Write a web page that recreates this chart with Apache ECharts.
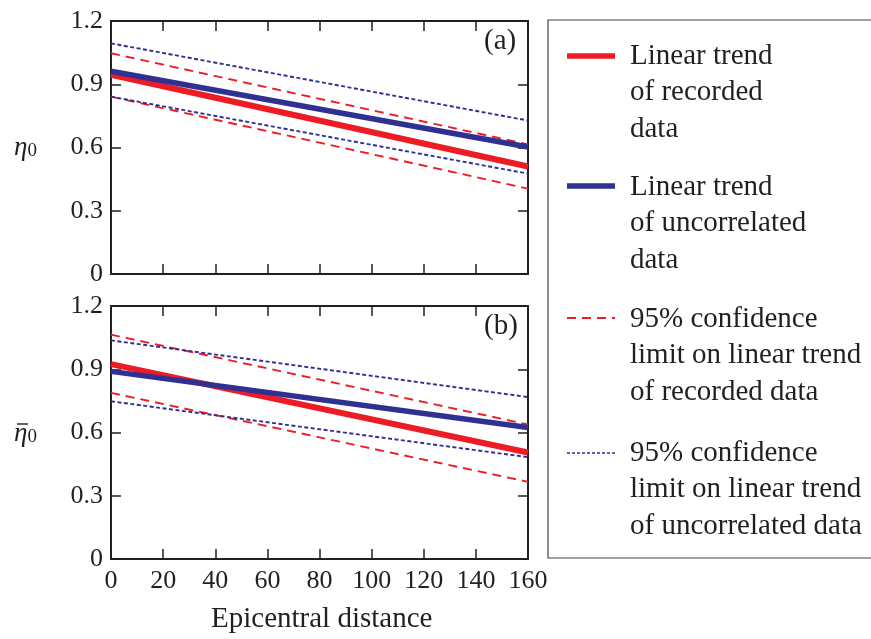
<!DOCTYPE html>
<html>
<head>
<meta charset="utf-8">
<script src="https://cdn.jsdelivr.net/npm/echarts@6/dist/echarts.min.js"></script>
<style>
  html, body { margin: 0; padding: 0; background: #fff; }
  #chart { width: 871px; height: 639px; }
</style>
</head>
<body>
<div id="chart"></div>
<script>
// Epicentral distance end points of each linear trend
var distance = [0, 160];

// Panel (a): eta_0
var aRecordedTrend = [0.945, 0.51];
var aUncorrTrend = [0.962, 0.602];
var aRecordedUpper = [1.047, 0.615];
var aRecordedLower = [0.841, 0.405];
var aUncorrUpper = [1.094, 0.728];
var aUncorrLower = [0.841, 0.476];

// Panel (b): eta_0 bar
var bRecordedTrend = [0.924, 0.505];
var bUncorrTrend = [0.89, 0.624];
var bRecordedUpper = [1.064, 0.638];
var bRecordedLower = [0.788, 0.366];
var bUncorrUpper = [1.037, 0.768];
var bUncorrLower = [0.748, 0.483];

var legendLabels = [
  'Linear trend\nof recorded\ndata',
  'Linear trend\nof uncorrelated\ndata',
  '95% confidence\nlimit on linear trend\nof recorded data',
  '95% confidence\nlimit on linear trend\nof uncorrelated data'
];

var RED = '#ed1c24';
var BLUE = '#2e3192';
var INK = '#231f20';
var FONT = '"Liberation Serif", "Times New Roman", serif';

function pts(ys) {
  return distance.map(function (x, i) { return [x, ys[i]]; });
}

function line(name, ys, grid, color, width, type, z) {
  return {
    name: name,
    type: 'line',
    xAxisIndex: grid * 2,
    yAxisIndex: grid * 2,
    data: pts(ys),
    symbol: 'none',
    silent: true,
    z: z,
    lineStyle: { color: color, width: width, type: type, cap: 'butt' }
  };
}

var DASH = [9, 6];
var DOT = [4, 2.5];
var THIN = 1.9;

function xAxes(grid, showLabels) {
  var common = {
    type: 'value', gridIndex: grid, min: 0, max: 160, interval: 20,
    splitLine: { show: false },
    axisLine: { show: true, onZero: false, lineStyle: { color: INK, width: 2 } },
    axisTick: { show: true, inside: true, length: 10, lineStyle: { color: INK, width: 1.5 } }
  };
  return [
    Object.assign({}, common, {
      position: 'bottom',
      axisLabel: { show: showLabels, color: INK, fontFamily: FONT, fontSize: 26, margin: 9,
        showMinLabel: true, showMaxLabel: true }
    }),
    Object.assign({}, common, { position: 'top', axisLabel: { show: false } })
  ];
}

function yAxes(grid) {
  var common = {
    type: 'value', gridIndex: grid, min: 0, max: 1.2, interval: 0.3,
    splitLine: { show: false },
    axisLine: { show: true, onZero: false, lineStyle: { color: INK, width: 2 } },
    axisTick: { show: true, inside: true, length: 10, lineStyle: { color: INK, width: 1.5 } }
  };
  return [
    Object.assign({}, common, {
      position: 'left',
      axisLabel: { color: INK, fontFamily: FONT, fontSize: 26, margin: 8 }
    }),
    Object.assign({}, common, { position: 'right', axisLabel: { show: false } })
  ];
}

var chart = echarts.init(document.getElementById('chart'), null, { renderer: 'canvas' });

// Legend entries: sample line + wrapped text
var legendTops = [38, 169, 301, 435];
var legendSamples = [
  { color: RED, width: 5.5, type: 'solid' },
  { color: BLUE, width: 5.5, type: 'solid' },
  { color: RED, width: THIN, type: DASH },
  { color: BLUE, width: 1.6, type: [3, 2] }
];
var legendSampleY = [56, 186, 318, 453];

var graphics = [
  {
    type: 'rect', shape: { x: 548, y: 20, width: 340, height: 538 },
    style: { fill: 'none', stroke: '#444', lineWidth: 1.2 }, silent: true
  }
];
legendLabels.forEach(function (label, i) {
  var s = legendSamples[i];
  graphics.push({
    type: 'line', shape: { x1: 567, y1: legendSampleY[i], x2: 615, y2: legendSampleY[i] },
    style: { stroke: s.color, lineWidth: s.width, lineDash: s.type === 'solid' ? null : s.type },
    silent: true
  });
  graphics.push({
    type: 'text', left: 630, top: legendTops[i], silent: true,
    style: { text: label, fill: INK, font: '29px ' + FONT, lineHeight: 36.5 }
  });
});

// Panel tags
graphics.push({ type: 'text', left: 484, top: 27, silent: true,
  style: { text: '(a)', fill: INK, font: '29px ' + FONT } });
graphics.push({ type: 'text', left: 484, top: 312, silent: true,
  style: { text: '(b)', fill: INK, font: '29px ' + FONT } });

// Y axis titles
var etaRich = {
  e: { font: 'italic 27px ' + FONT, fill: INK },
  s: { font: '19px ' + FONT, fill: INK, verticalAlign: 'bottom', padding: [8, 0, 0, 0] }
};
graphics.push({ type: 'text', left: 14, top: 134, silent: true,
  style: { text: '{e|\u03b7}{s|0}', fill: INK, rich: etaRich } });
graphics.push({ type: 'text', left: 14, top: 420, silent: true,
  style: { text: '{e|\u03b7}{s|0}', fill: INK, rich: etaRich } });
// overbar on the lower-panel eta
graphics.push({ type: 'line', silent: true,
  shape: { x1: 17, y1: 424, x2: 28, y2: 424 },
  style: { stroke: INK, lineWidth: 1.4 } });

// X axis title
graphics.push({ type: 'text', left: 211, top: 605, silent: true,
  style: { text: 'Epicentral distance', fill: INK, font: '29px ' + FONT } });

chart.setOption({
  animation: false,
  backgroundColor: '#fff',
  grid: [
    { left: 111, top: 21, width: 417, height: 253, containLabel: false },
    { left: 111, top: 306, width: 417, height: 253, containLabel: false }
  ],
  xAxis: xAxes(0, false).concat(xAxes(1, true)),
  yAxis: yAxes(0).concat(yAxes(1)),
  series: [
    line('aRecordedUpper', aRecordedUpper, 0, RED, THIN, DASH, 2),
    line('aRecordedLower', aRecordedLower, 0, RED, THIN, DASH, 2),
    line('aUncorrUpper', aUncorrUpper, 0, BLUE, THIN, DOT, 3),
    line('aUncorrLower', aUncorrLower, 0, BLUE, THIN, DOT, 3),
    line('aRecordedTrend', aRecordedTrend, 0, RED, 6, 'solid', 4),
    line('aUncorrTrend', aUncorrTrend, 0, BLUE, 5.5, 'solid', 5),
    line('bRecordedUpper', bRecordedUpper, 1, RED, THIN, DASH, 2),
    line('bRecordedLower', bRecordedLower, 1, RED, THIN, DASH, 2),
    line('bUncorrUpper', bUncorrUpper, 1, BLUE, THIN, DOT, 3),
    line('bUncorrLower', bUncorrLower, 1, BLUE, THIN, DOT, 3),
    line('bRecordedTrend', bRecordedTrend, 1, RED, 6, 'solid', 4),
    line('bUncorrTrend', bUncorrTrend, 1, BLUE, 5.5, 'solid', 5)
  ],
  graphic: graphics
});
</script>
</body>
</html>
